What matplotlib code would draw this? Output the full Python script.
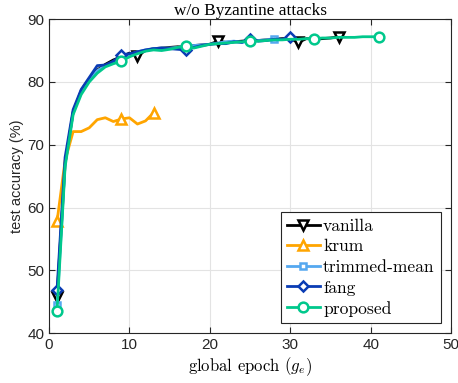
import matplotlib
matplotlib.use("Agg")
import matplotlib.pyplot as plt
import numpy as np

plt.rcParams["mathtext.fontset"] = "cm"
plt.rcParams["axes.unicode_minus"] = False

# accuracy per global epoch
vanilla = [45.8, 67.0, 75.2, 78.6, 80.5, 81.9, 82.8, 83.5, 84.0, 84.6,
           84.2, 85.0, 85.3, 85.4, 85.5, 85.6, 85.6, 85.8, 85.9, 86.0,
           86.5, 86.3, 86.4, 86.5, 86.6, 86.6, 86.7, 86.8, 86.9, 86.9,
           86.3, 86.9, 86.8, 86.9, 87.0, 87.2]
krum = [57.8, 67.5, 72.1, 72.1, 72.7, 74.0, 74.3, 73.7, 74.1, 74.3,
        73.3, 73.8, 75.1]
trimmed = [44.5, 67.0, 75.2, 78.5, 80.3, 81.8, 82.6, 83.2, 83.7, 84.3,
           84.8, 85.1, 85.3, 85.4, 85.4, 85.5, 85.7, 85.8, 85.9, 86.0,
           86.2, 86.4, 86.5, 86.3, 86.5, 86.6, 86.7, 86.9]
fang = [46.9, 68.0, 75.6, 78.8, 80.7, 82.6, 82.7, 83.3, 84.3, 84.5,
        84.8, 85.1, 85.3, 85.4, 85.3, 85.2, 85.1, 85.5, 85.8, 86.0,
        86.1, 86.1, 86.4, 86.3, 86.9, 86.5, 86.6, 86.8, 86.8, 87.1]
proposed = [43.6, 66.5, 74.8, 78.0, 80.0, 81.4, 82.4, 82.9, 83.3, 84.0,
            84.5, 84.9, 85.1, 85.0, 85.2, 85.5, 85.7, 85.4, 85.7, 86.0,
            86.1, 86.2, 86.3, 86.4, 86.5, 86.5, 86.6, 86.7, 86.7, 86.8,
            86.8, 86.9, 86.9, 87.0, 87.0, 87.1, 87.1, 87.1, 87.2, 87.2,
            87.2]

series = [
    ("vanilla", vanilla, "#000000", "v", 10),
    ("krum", krum, "#FFA500", "^", 8),
    ("trimmed-mean", trimmed, "#55A8F0", "s", 100),
    ("fang", fang, "#0A3CB4", "D", 8),
    ("proposed", proposed, "#00C88C", "o", 8),
]

fig = plt.figure(figsize=(4.58, 3.83), dpi=100)
ax = fig.add_axes([0.107, 0.130, 0.878, 0.820])

for name, vals, color, mk, step in series:
    ep = np.arange(1, len(vals) + 1)
    idx = list(range(0, len(vals), step))
    if idx[-1] != len(vals) - 1:
        idx.append(len(vals) - 1)
    ms = 5.5 if mk == "D" else (5 if mk == "s" else 7)
    ax.plot(ep, vals, color=color, linewidth=2, marker=mk, markevery=idx,
            markersize=ms, markerfacecolor="white", markeredgecolor=color,
            markeredgewidth=1.8, label=name)

ax.set_xlim(0, 50)
ax.set_ylim(40, 90)
ax.set_xticks(np.arange(0, 51, 10))
ax.set_yticks(np.arange(40, 91, 10))
ax.grid(True, color="#E3E3E3", linewidth=0.8)
ax.set_axisbelow(True)
ax.tick_params(direction="in", top=True, right=True, length=4, labelsize=11,
               colors="#262626")
for lab in ax.get_xticklabels() + ax.get_yticklabels():
    lab.set_family("Liberation Sans")
for sp in ax.spines.values():
    sp.set_color("#262626")
    sp.set_linewidth(0.8)

ax.set_title("w/o Byzantine attacks", family="Liberation Serif", fontsize=12.4,
             pad=3)
ax.set_xlabel("global epoch $(g_e)$", family="cmr10", fontsize=12,
              labelpad=2)
ax.set_ylabel("test accuracy (%)", family="Liberation Sans", fontsize=10.5,
              color="#262626", labelpad=2)

leg = ax.legend(loc="lower right", prop={"family": "cmr10", "size": 12.6},
                frameon=True, fancybox=False, edgecolor="#262626",
                framealpha=1, handlelength=1.85, handletextpad=0.2,
                borderpad=0.35, labelspacing=0.3, borderaxespad=0.6)
leg.get_frame().set_linewidth(0.8)

plt.savefig("out.png", dpi=100)
